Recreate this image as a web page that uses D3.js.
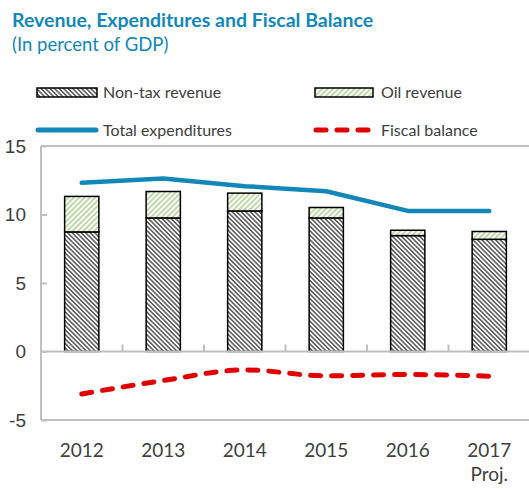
<!DOCTYPE html>
<html lang="en">
<head>
<meta charset="utf-8">
<title>Revenue, Expenditures and Fiscal Balance</title>
<script src="https://d3js.org/d3.v7.min.js"></script>
<style>
  body { margin: 0; background: #fff; }
  svg { display: block; font-family: Lato, "Open Sans", sans-serif; }
  .tick-label { fill: #404040; font-size: 19px; }
  .legend-label { fill: #404040; font-size: 16px; }
</style>
</head>
<body>
<script>
// chart values
var years = ["2012", "2013", "2014", "2015", "2016", "2017"];
var nonTax = [8.73, 9.75, 10.26, 9.75, 8.46, 8.19];
var oil = [2.59, 1.93, 1.30, 0.76, 0.39, 0.57];
var expenditures = [12.31, 12.63, 12.07, 11.7, 10.26, 10.26];
var fiscalBalance = [-3.1, -2.12, -1.34, -1.78, -1.68, -1.8];
var yTicks = [-5, 0, 5, 10, 15];

var width = 529, height = 489;
var blue = "#1287b8", red = "#e00000", grid = "#bfbfbf";

var svg = d3.select("body").append("svg")
    .attr("width", width)
    .attr("height", height);

// hatch patterns
var defs = svg.append("defs");
function hatch(id, angle, size, color, sw) {
  var p = defs.append("pattern")
      .attr("id", id)
      .attr("patternUnits", "userSpaceOnUse")
      .attr("width", size).attr("height", size)
      .attr("patternTransform", "rotate(" + angle + ")");
  p.append("rect").attr("width", size).attr("height", size).attr("fill", "#fff");
  p.append("line")
      .attr("x1", size / 2).attr("y1", 0)
      .attr("x2", size / 2).attr("y2", size)
      .attr("stroke", color).attr("stroke-width", sw);
}
hatch("nontax", -45, 3.2, "#555", 1.5);
hatch("oil", 45, 3.8, "#a9d08e", 1.5);

// title
svg.append("text")
    .attr("x", 12).attr("y", 27)
    .attr("fill", blue)
    .style("font-size", "19.5px").style("font-weight", "bold")
    .text("Revenue, Expenditures and Fiscal Balance");
svg.append("text")
    .attr("x", 12).attr("y", 51)
    .attr("fill", blue)
    .style("font-size", "18.5px")
    .text("(In percent of GDP)");

// scales
var x = d3.scaleBand().domain(years).range([41, 530]);
var y = d3.scaleLinear().domain([-5, 15]).range([420, 146]);
var barW = x.bandwidth() * 0.42;

// frame
var frame = svg.append("g").attr("stroke", grid).attr("stroke-width", 2);
frame.append("line").attr("x1", 41).attr("x2", width).attr("y1", y(15)).attr("y2", y(15));
frame.append("line").attr("x1", 41).attr("x2", width).attr("y1", y(-5)).attr("y2", y(-5));
frame.append("line").attr("x1", 41).attr("x2", 41).attr("y1", y(15)).attr("y2", y(-5));

// y axis (plain hyphen for negatives, as in the original)
var yAxis = svg.append("g").attr("transform", "translate(41,0)")
    .call(d3.axisLeft(y).tickValues(yTicks).tickSize(-6).tickPadding(15)
      .tickFormat(function(d) { return String(d); }));
yAxis.select(".domain").remove();
yAxis.selectAll(".tick line").attr("stroke", grid).attr("stroke-width", 2);
yAxis.selectAll(".tick text").attr("class", "tick-label").attr("font-size", null).attr("font-family", null);

// bars
var bars = svg.append("g");
years.forEach(function(yr, i) {
  var bx = x(yr) + (x.bandwidth() - barW) / 2;
  bars.append("rect")
      .attr("x", bx).attr("y", y(nonTax[i]))
      .attr("width", barW).attr("height", y(0) - y(nonTax[i]))
      .attr("fill", "url(#nontax)").attr("stroke", "#000").attr("stroke-width", 1.5);
  bars.append("rect")
      .attr("x", bx).attr("y", y(nonTax[i] + oil[i]))
      .attr("width", barW).attr("height", y(nonTax[i]) - y(nonTax[i] + oil[i]))
      .attr("fill", "url(#oil)").attr("stroke", "#000").attr("stroke-width", 1.5);
});

// zero axis with category ticks
svg.append("line")
    .attr("x1", 41).attr("x2", width).attr("y1", y(0)).attr("y2", y(0))
    .attr("stroke", grid).attr("stroke-width", 2);
var xAxis = svg.append("g").attr("transform", "translate(0," + y(0) + ")");
years.slice(1).forEach(function(yr) {
  xAxis.append("line")
      .attr("x1", x(yr)).attr("x2", x(yr)).attr("y1", 0).attr("y2", -7)
      .attr("stroke", grid).attr("stroke-width", 2);
});

// x labels
svg.append("g").selectAll("text").data(years).join("text")
    .attr("class", "tick-label")
    .attr("x", function(d) { return x(d) + x.bandwidth() / 2; })
    .attr("y", 457)
    .attr("text-anchor", "middle")
    .text(function(d) { return d; });
svg.append("text").attr("class", "tick-label")
    .attr("x", x("2017") + x.bandwidth() / 2).attr("y", 481)
    .attr("text-anchor", "middle")
    .text("Proj.");

// lines
var cx = function(d, i) { return x(years[i]) + x.bandwidth() / 2; };
var expLine = d3.line().x(cx).y(function(d) { return y(d); });
var balLine = d3.line().x(cx).y(function(d) { return y(d); }).curve(d3.curveMonotoneX);

svg.append("path").datum(expenditures)
    .attr("d", expLine)
    .attr("fill", "none").attr("stroke", blue).attr("stroke-width", 4.5)
    .attr("stroke-linecap", "round").attr("stroke-linejoin", "round");
svg.append("path").datum(fiscalBalance)
    .attr("d", balLine)
    .attr("fill", "none").attr("stroke", red).attr("stroke-width", 5)
    .attr("stroke-linecap", "round").attr("stroke-dasharray", "10,11");

// legend
var legend = svg.append("g");
legend.append("rect").attr("x", 37).attr("y", 88).attr("width", 60).attr("height", 9)
    .attr("fill", "url(#nontax)").attr("stroke", "#000").attr("stroke-width", 1.5);
legend.append("rect").attr("x", 315).attr("y", 88).attr("width", 58).attr("height", 9)
    .attr("fill", "url(#oil)").attr("stroke", "#000").attr("stroke-width", 1.5);
legend.append("line").attr("x1", 38).attr("x2", 96).attr("y1", 130).attr("y2", 130)
    .attr("stroke", blue).attr("stroke-width", 5).attr("stroke-linecap", "round");
legend.append("line").attr("x1", 316).attr("x2", 372).attr("y1", 130).attr("y2", 130)
    .attr("stroke", red).attr("stroke-width", 5).attr("stroke-linecap", "round")
    .attr("stroke-dasharray", "10,11");
[["Non-tax revenue", 103, 98], ["Oil revenue", 381, 98],
 ["Total expenditures", 103, 136], ["Fiscal balance", 381, 136]].forEach(function(l) {
  legend.append("text").attr("class", "legend-label")
      .attr("x", l[1]).attr("y", l[2]).text(l[0]);
});
</script>
</body>
</html>
